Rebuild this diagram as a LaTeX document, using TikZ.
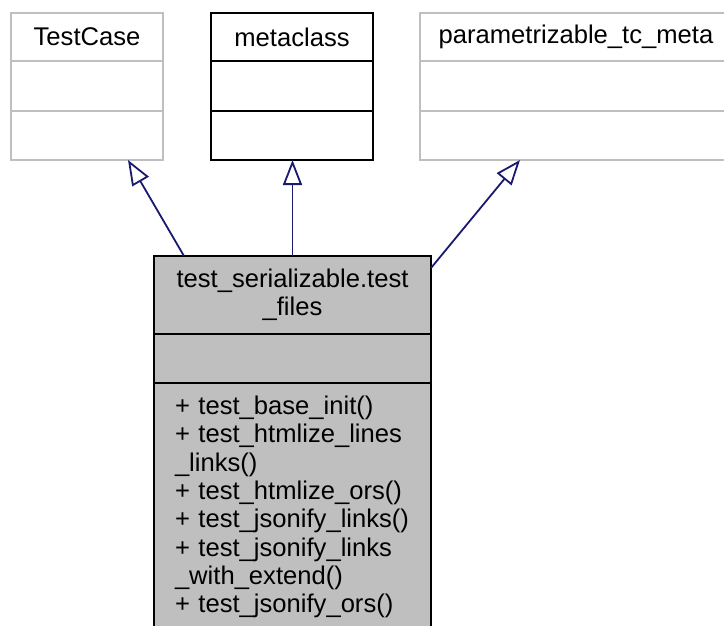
\documentclass[tikz,border=0pt]{standalone}
\usepackage{fontspec}
\setmainfont{Liberation Sans}
\usetikzlibrary{arrows.meta, positioning}

\definecolor{navyline}{RGB}{25,25,112}
\definecolor{umlgray}{RGB}{191,191,191}

\begin{document}
\begin{tikzpicture}[
    x=1pt, y=-1pt,
    font=\fontsize{25.6}{28.3}\selectfont,
    inh/.style      = {-{Triangle[open, length=25pt, width=19pt]}, draw=navyline, line width=1.8pt},
    greybox/.style  = {rectangle, draw=umlgray, fill=white, line width=2pt, inner sep=0pt, outer sep=0pt},
    blackbox/.style = {rectangle, draw=black, fill=white, line width=2pt, inner sep=0pt, outer sep=0pt},
    mainbox/.style  = {rectangle, draw=black, fill=umlgray, line width=2pt, inner sep=0pt, outer sep=0pt}
  ]

  \useasboundingbox (0,0) rectangle (724,625);
  \clip (0,0) rectangle (724,625);

  % --- base classes (top row) ---
  \node[greybox, anchor=north west, minimum width=152, minimum height=48] (tcT) at (11,13) {TestCase};
  \node[greybox, minimum width=152, minimum height=50, below=0pt of tcT] (tcA) {};
  \node[greybox, minimum width=152, minimum height=49, below=0pt of tcA] (tcM) {};

  \node[blackbox, anchor=north west, minimum width=162, minimum height=48] (mcT) at (211,13) {metaclass};
  \node[blackbox, minimum width=162, minimum height=50, below=0pt of mcT] (mcA) {};
  \node[blackbox, minimum width=162, minimum height=49, below=0pt of mcA] (mcM) {};

  \node[greybox, anchor=north west, minimum width=312, minimum height=48] (pmT) at (420,13) {parametrizable\_tc\_meta};
  \node[greybox, minimum width=312, minimum height=50, below=0pt of pmT] (pmA) {};
  \node[greybox, minimum width=312, minimum height=49, below=0pt of pmA] (pmM) {};

  % --- derived class ---
  \node[mainbox, anchor=north west, minimum width=277, minimum height=78, align=center] (mainT) at (154,256)
       {test\_serializable.test\\\_files};
  \node[mainbox, minimum width=277, minimum height=49, below=0pt of mainT] (mainA) {};
  \node[mainbox, minimum width=277, minimum height=248, text width=235, inner xsep=21pt,
        align=left, below=0pt of mainA] (mainM)
       {+ test\_base\_init()\\
        + test\_htmlize\_lines\\
        \_links()\\
        + test\_htmlize\_ors()\\
        + test\_jsonify\_links()\\
        + test\_jsonify\_links\\
        \_with\_extend()\\
        + test\_jsonify\_ors()};

  % --- inheritance edges ---
  \draw[inh] ([xshift=30pt]mainT.north west) -- ([xshift=117pt]tcM.south west);
  \draw[inh] (mainT.north) -- (mainT.north |- mcM.south);
  \draw[inh] ([yshift=-12pt]mainT.north east) -- ([xshift=100pt]pmM.south west);

\end{tikzpicture}
\end{document}
